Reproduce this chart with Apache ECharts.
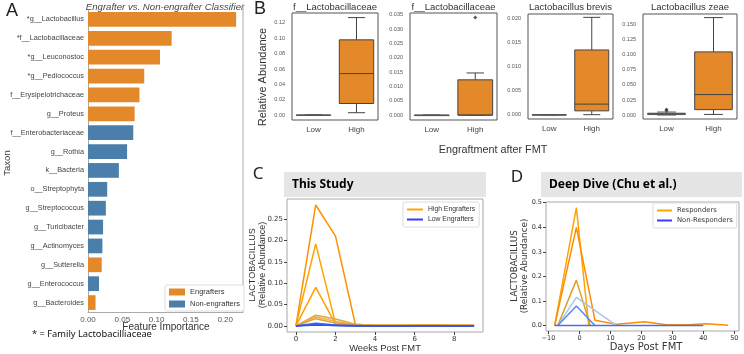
<!DOCTYPE html>
<html>
<head>
<meta charset="utf-8">
<script src="https://cdn.jsdelivr.net/npm/echarts@6/dist/echarts.min.js"></script>
<style>
  html, body { margin: 0; padding: 0; background: #fff; }
  #chart { width: 744px; height: 354px; }
</style>
</head>
<body>
<div id="chart"></div>
<script>
// ---- A: classifier feature importance ----
const taxa = ["*g__Lactobacillus", "*f__Lactobacillaceae", "*g__Leuconostoc", "*g__Pediococcus",
  "f__Erysipelotrichaceae", "g__Proteus", "f__Enterobacteriaceae", "g__Rothia", "k__Bacteria",
  "o__Streptophyta", "g__Streptococcus", "g__Turicibacter", "g__Actinomyces", "g__Sutterella",
  "g__Enterococcus", "g__Bacteroides"];
const importance = [0.216, 0.122, 0.105, 0.082, 0.075, 0.068, 0.066, 0.057, 0.045,
  0.028, 0.026, 0.022, 0.021, 0.020, 0.016, 0.011];
const taxonGroup = ["E", "E", "E", "E", "E", "E", "N", "N", "N", "N", "N", "N", "N", "E", "N", "E"];
const importanceTicks = [0, 0.05, 0.10, 0.15, 0.20];

// ---- B: box stats [min, q1, median, q3, max] for Low / High ----
const boxCats = ["Low", "High"];
const boxTitles = ["f__Lactobacillaceae", "f__Lactobacillaceae", "Lactobacillus brevis", "Lactobacillus zeae"];
const boxLow = [[0, 0, 0, 0, 0], [0, 0, 0, 0, 0], [0, 0, 0, 0, 0], [0, 0.0008, 0.0015, 0.003, 0.005]];
const boxHigh = [[0.003, 0.015, 0.054, 0.098, 0.127], [0, 0, 0, 0.0123, 0.0147],
  [0, 0.0008, 0.0022, 0.0135, 0.0203], [0.001, 0.009, 0.034, 0.105, 0.162]];
const boxOutliers = [[], [[1, 0.034]], [], [[0, 0.007], [0, 0.009]]];
const boxTicks = [[0, 0.02, 0.04, 0.06, 0.08, 0.10, 0.12],
  [0, 0.005, 0.010, 0.015, 0.020, 0.025, 0.030, 0.035],
  [0, 0.005, 0.010, 0.015, 0.020],
  [0, 0.025, 0.050, 0.075, 0.100, 0.125, 0.150]];
const boxRange = [[-0.0065, 0.133], [-0.0017, 0.0356], [-0.0009, 0.021], [-0.0066, 0.168]];
const boxDigits = [2, 3, 3, 3];

// ---- C: this study, weeks post FMT ----
const weeks = [0, 1, 2, 3, 4, 5, 6, 7, 8, 9];
const highEngrafters = [
  [0, 0.283, 0.210, 0.004, 0.001, 0.001, 0.002, 0.003, 0.001, 0.001],
  [0, 0.192, 0.006, 0.002, 0.001, 0.001, 0.001, 0.001, 0.001, 0.001],
  [0, 0.090, 0.004, 0.001, 0.001, 0.001, 0.001, 0.001, 0.001, 0.001],
  [0, 0.025, 0.016, 0.004, 0.001, 0.001, 0.001, 0.001, 0.001, 0.001],
  [0, 0.021, 0.011, 0.003, 0.001, 0.001, 0.001, 0.001, 0.001, 0.001],
  [0, 0.017, 0.007, 0.002, 0.001, 0.001, 0.001, 0.001, 0.001, 0.001]
];
const lowEngrafters = [
  [0, 0.006, 0.002, 0.001, 0, 0, 0, 0, 0, 0],
  [0, 0.004, 0.001, 0, 0, 0, 0, 0, 0, 0],
  [0, 0.002, 0.001, 0, 0, 0, 0, 0, 0, 0]
];
const weekTicks = [0, 2, 4, 6, 8];
const studyTicks = [0, 0.05, 0.10, 0.15, 0.20, 0.25];

// ---- D: Chu et al., days post FMT ----
const chuResponders = [
  [[-8, 0], [-1, 0.48], [3, 0]],
  [[-8, 0], [-1, 0.40], [5, 0.022], [12, 0.005], [21, 0.016], [28, 0.003], [35, 0.003], [41, 0.008], [48, 0.001]],
  [[-7, 0], [-1, 0.185], [3.5, 0]]
];
const chuNonResponders = [
  [[-7, 0], [-1, 0.115], [12, 0]],
  [[-7, 0], [-1, 0.08], [5, 0]],
  [[-8, 0], [40, 0]]
];
const dayTicks = [-10, 0, 10, 20, 30, 40, 50];
const chuTicks = [0, 0.1, 0.2, 0.3, 0.4, 0.5];

// colours
const orange = "#e3892a";
const steel = "#4a7eab";
const lowBoxColor = "#353545";
const highColors = ["#ff9000", "#ffa200", "#ffa000", "#e4a540", "#f0b248", "#dca33a"];
const lowColors = ["#3d5ff2", "#4a6cf0", "#3050f0"];
const respColors = ["#ffa300", "#ff8c00", "#d9a02a"];
const nonRespColors = ["#abc5ec", "#5a87f0", "#4470ee"];

let myChart = echarts.init(document.getElementById("chart"));

const sans = "Liberation Sans";
const dv = "DejaVu Sans";

// grids: A, B1..B4, C, D
let grids = [
  { left: 88, top: 10, width: 155, height: 302 },
  { left: 292, top: 13, width: 86, height: 107 },
  { left: 410, top: 13, width: 87, height: 107 },
  { left: 528, top: 14, width: 85, height: 105 },
  { left: 643, top: 14, width: 94, height: 105 },
  { left: 287, top: 199, width: 196, height: 133 },
  { left: 546, top: 202, width: 193, height: 129 }
];
grids.forEach((g, i) => {
  g.containLabel = false;
  if (i >= 1) {
    g.show = true;
    g.borderWidth = 1;
    g.borderColor = i <= 4 ? "#555" : "#a8a8a8";
    g.backgroundColor = "transparent";
  }
});

let xAxes = [];
let yAxes = [];
const hiddenLine = { show: false, onZero: false };

// A axes
xAxes.push({
  type: "value", gridIndex: 0, min: 0, max: 0.226,
  splitLine: { show: false },
  axisLine: { show: true, onZero: false, lineStyle: { color: "#aaa" } },
  axisTick: { show: false },
  axisLabel: { customValues: importanceTicks, fontSize: 8, color: "#555", fontFamily: sans,
    formatter: v => v.toFixed(2), margin: 4 }
});
yAxes.push({
  type: "category", gridIndex: 0, data: taxa, inverse: true,
  axisLine: { show: true, onZero: false, lineStyle: { color: "#aaa" } },
  axisTick: { show: false },
  axisLabel: { fontSize: 7.3, color: "#444", fontFamily: sans, margin: 4 }
});

// B axes
for (let k = 0; k < 4; k++) {
  xAxes.push({
    type: "category", gridIndex: k + 1, data: boxCats,
    axisLine: hiddenLine, axisTick: { show: false },
    axisLabel: { fontSize: 8, color: "#444", fontFamily: sans, margin: 6 }
  });
  yAxes.push({
    type: "value", gridIndex: k + 1, min: boxRange[k][0], max: boxRange[k][1],
    splitLine: { show: false }, axisLine: hiddenLine, axisTick: { show: false },
    axisLabel: { customValues: boxTicks[k], fontSize: 5.5, color: "#555", fontFamily: sans, margin: 7,
      formatter: (v => x => x.toFixed(boxDigits[v]))(k) }
  });
}

// C axes
xAxes.push({
  type: "value", gridIndex: 5, min: -0.45, max: 9.45,
  splitLine: { show: false }, axisLine: hiddenLine,
  axisTick: { show: true, customValues: weekTicks, length: 3, lineStyle: { color: "#444" } },
  axisLabel: { customValues: weekTicks, fontSize: 7, color: "#333", fontFamily: dv, margin: 4 }
});
yAxes.push({
  type: "value", gridIndex: 5, min: -0.0142, max: 0.297,
  splitLine: { show: false }, axisLine: hiddenLine,
  axisTick: { show: true, customValues: studyTicks, length: 3, lineStyle: { color: "#444" } },
  axisLabel: { customValues: studyTicks, fontSize: 7, color: "#333", fontFamily: dv, margin: 4,
    formatter: v => v.toFixed(2) }
});

// D axes
xAxes.push({
  type: "value", gridIndex: 6, min: -10.8, max: 51.5,
  splitLine: { show: false }, axisLine: hiddenLine,
  axisTick: { show: true, customValues: dayTicks, length: 3, lineStyle: { color: "#444" } },
  axisLabel: { customValues: dayTicks, fontSize: 6.5, color: "#333", fontFamily: dv, margin: 4,
    formatter: v => (v < 0 ? "\u2212" + Math.abs(v) : String(v)) }
});
yAxes.push({
  type: "value", gridIndex: 6, min: -0.022, max: 0.503,
  splitLine: { show: false }, axisLine: hiddenLine,
  axisTick: { show: true, customValues: chuTicks, length: 3, lineStyle: { color: "#444" } },
  axisLabel: { customValues: chuTicks, fontSize: 6.5, color: "#333", fontFamily: dv, margin: 4,
    formatter: v => v.toFixed(1) }
});

let series = [];

// A bars
series.push({
  name: "Engrafters", type: "bar", xAxisIndex: 0, yAxisIndex: 0,
  barGap: "-100%", barCategoryGap: "22%",
  itemStyle: { color: orange },
  data: importance.map((v, i) => (taxonGroup[i] === "E" ? v : "-"))
});
series.push({
  name: "Non-engrafters", type: "bar", xAxisIndex: 0, yAxisIndex: 0,
  barGap: "-100%", barCategoryGap: "22%",
  itemStyle: { color: steel },
  data: importance.map((v, i) => (taxonGroup[i] === "N" ? v : "-"))
});

// seaborn-like box: caps half the box width
function renderBox(params, api) {
  const cat = api.value(0);
  const v = [1, 2, 3, 4, 5].map(d => api.value(d));
  const bw = api.size([1, 0])[0] * 0.8;
  const cx = api.coord([cat, 0])[0];
  const y = v.map(val => api.coord([cat, val])[1]);
  const fill = cat === 0 ? lowBoxColor : orange;
  const edge = cat === 0 ? "#555" : "#444";
  const ls = { stroke: edge, lineWidth: 1 };
  return {
    type: "group",
    children: [
      { type: "line", shape: { x1: cx, y1: y[0], x2: cx, y2: y[1] }, style: ls },
      { type: "line", shape: { x1: cx, y1: y[3], x2: cx, y2: y[4] }, style: ls },
      { type: "line", shape: { x1: cx - bw / 4, y1: y[0], x2: cx + bw / 4, y2: y[0] }, style: ls },
      { type: "line", shape: { x1: cx - bw / 4, y1: y[4], x2: cx + bw / 4, y2: y[4] }, style: ls },
      { type: "rect", shape: { x: cx - bw / 2, y: y[3], width: bw, height: Math.max(y[1] - y[3], 0.5) },
        style: { fill: fill, stroke: edge, lineWidth: 1 } },
      { type: "line", shape: { x1: cx - bw / 2, y1: y[2], x2: cx + bw / 2, y2: y[2] }, style: ls }
    ]
  };
}

// B boxes
for (let k = 0; k < 4; k++) {
  series.push({
    type: "custom", xAxisIndex: k + 1, yAxisIndex: k + 1,
    renderItem: renderBox,
    encode: { x: 0, y: [1, 2, 3, 4, 5] },
    data: [[0].concat(boxLow[k]), [1].concat(boxHigh[k])]
  });
  if (boxOutliers[k].length) {
    series.push({
      type: "scatter", xAxisIndex: k + 1, yAxisIndex: k + 1,
      symbol: "diamond", symbolSize: 4,
      itemStyle: { color: "#333" },
      data: boxOutliers[k]
    });
  }
}

// C lines
highEngrafters.forEach((vals, i) => {
  series.push({
    name: "High Engrafters", type: "line", xAxisIndex: 5, yAxisIndex: 5,
    symbol: "none", lineStyle: { width: 1.5, color: highColors[i] },
    itemStyle: { color: highColors[i] },
    data: weeks.map((w, j) => [w, vals[j]])
  });
});
lowEngrafters.forEach((vals, i) => {
  series.push({
    name: "Low Engrafters", type: "line", xAxisIndex: 5, yAxisIndex: 5,
    symbol: "none", lineStyle: { width: 1.5, color: lowColors[i] },
    itemStyle: { color: lowColors[i] },
    data: weeks.map((w, j) => [w, vals[j]])
  });
});

// D lines
chuResponders.forEach((pts, i) => {
  series.push({
    name: "Responders", type: "line", xAxisIndex: 6, yAxisIndex: 6,
    symbol: "none", lineStyle: { width: 1.5, color: respColors[i] },
    itemStyle: { color: respColors[i] },
    data: pts
  });
});
chuNonResponders.forEach((pts, i) => {
  series.push({
    name: "Non-Responders", type: "line", xAxisIndex: 6, yAxisIndex: 6,
    symbol: "none", lineStyle: { width: 1.5, color: nonRespColors[i] },
    itemStyle: { color: nonRespColors[i] },
    data: pts
  });
});

function legendBox(opts) {
  return Object.assign({
    orient: "vertical", icon: "rect", itemGap: 2,
    backgroundColor: "#fff", borderColor: "#ddd", borderWidth: 1, borderRadius: 2,
    selectedMode: false
  }, opts);
}

let legends = [
  legendBox({
    left: 165, top: 285, padding: [3, 4], itemWidth: 16, itemHeight: 7, itemGap: 4,
    textStyle: { fontSize: 7.5, color: "#333", fontFamily: sans },
    data: [{ name: "Engrafters", itemStyle: { color: orange } },
           { name: "Non-engrafters", itemStyle: { color: steel } }]
  }),
  legendBox({
    left: 403, top: 202, padding: [4, 4], itemWidth: 16, itemHeight: 2, itemGap: 3,
    textStyle: { fontSize: 6.8, color: "#333", fontFamily: sans },
    data: [{ name: "High Engrafters", itemStyle: { color: "#ffa500" } },
           { name: "Low Engrafters", itemStyle: { color: "#3a3aff" } }]
  }),
  legendBox({
    left: 653, top: 203, padding: [4, 4], itemWidth: 15, itemHeight: 2, itemGap: 3,
    textStyle: { fontSize: 6.8, color: "#333", fontFamily: dv },
    data: [{ name: "Responders", itemStyle: { color: "#ffa500" } },
           { name: "Non-Responders", itemStyle: { color: "#3a3aff" } }]
  })
];

function txt(x, y, text, font, extra) {
  return Object.assign({
    type: "text", x: x, y: y, silent: true,
    style: Object.assign({ text: text, font: font, fill: "#222", align: "center", verticalAlign: "middle" },
      (extra && extra.style) || {})
  }, extra && extra.rotation ? { rotation: extra.rotation } : {});
}

let graphics = [
  // A
  txt(12, 11, "A", "18px " + sans),
  txt(165, 7, "Engrafter vs. Non-engrafter Classifier", "italic 9.6px " + sans, { style: { fill: "#444" } }),
  txt(7, 163, "Taxon", "9.5px " + sans, { rotation: Math.PI / 2, style: { fill: "#333" } }),
  txt(166, 327, "Feature Importance", "10px " + sans, { style: { fill: "#333" } }),
  txt(32, 334, "* = Family Lactobacilliaceae", "9.3px Noto Sans", { style: { align: "left", fill: "#111" } }),
  { type: "line", silent: true, shape: { x1: 243, y1: 4, x2: 243, y2: 312 }, style: { stroke: "#aaa", lineWidth: 1 } },
  // B
  txt(260, 9, "B", "18px " + sans),
  txt(263, 77, "Relative Abundance", "11px " + sans, { rotation: Math.PI / 2, style: { fill: "#333" } }),
  txt(493, 150, "Engraftment after FMT", "10.8px " + sans, { style: { fill: "#333" } }),
  // C
  txt(258, 174, "C", "17px Noto Sans"),
  { type: "rect", silent: true, z: -1, shape: { x: 284, y: 172, width: 202, height: 25 }, style: { fill: "#e5e5e5" } },
  txt(292, 185, "This Study", "bold 12px Noto Sans", { style: { align: "left", fill: "#000" } }),
  txt(258, 265, "LACTOBACILLUS\n(Relative Abundance)", "9px " + sans,
    { rotation: Math.PI / 2, style: { fill: "#333", lineHeight: 10 } }),
  txt(385, 348, "Weeks Post FMT", "9.4px " + sans, { style: { fill: "#333" } }),
  // D
  txt(517, 177, "D", "17px Noto Sans"),
  { type: "rect", silent: true, z: -1, shape: { x: 541, y: 172, width: 201, height: 25 }, style: { fill: "#e5e5e5" } },
  txt(549, 185, "Deep Dive (Chu et al.)", "bold 12px Noto Sans", { style: { align: "left", fill: "#000" } }),
  txt(520, 266, "LACTOBACILLUS\n(Relative Abundance)", "8.8px " + dv,
    { rotation: Math.PI / 2, style: { fill: "#333", lineHeight: 10 } }),
  txt(646, 347, "Days Post FMT", "10px " + dv, { style: { fill: "#333" } })
];
boxTitles.forEach((t, k) => {
  const g = grids[k + 1];
  graphics.push(txt(g.left + g.width / 2, 7, t, "9.5px " + sans, { style: { fill: "#333" } }));
});

let option = {
  animation: false,
  backgroundColor: "#fff",
  textStyle: { fontFamily: sans },
  grid: grids,
  xAxis: xAxes,
  yAxis: yAxes,
  legend: legends,
  series: series,
  graphic: graphics
};
myChart.setOption(option);
window.addEventListener("resize", () => {
  myChart.resize();
});
</script>
</body>
</html>
